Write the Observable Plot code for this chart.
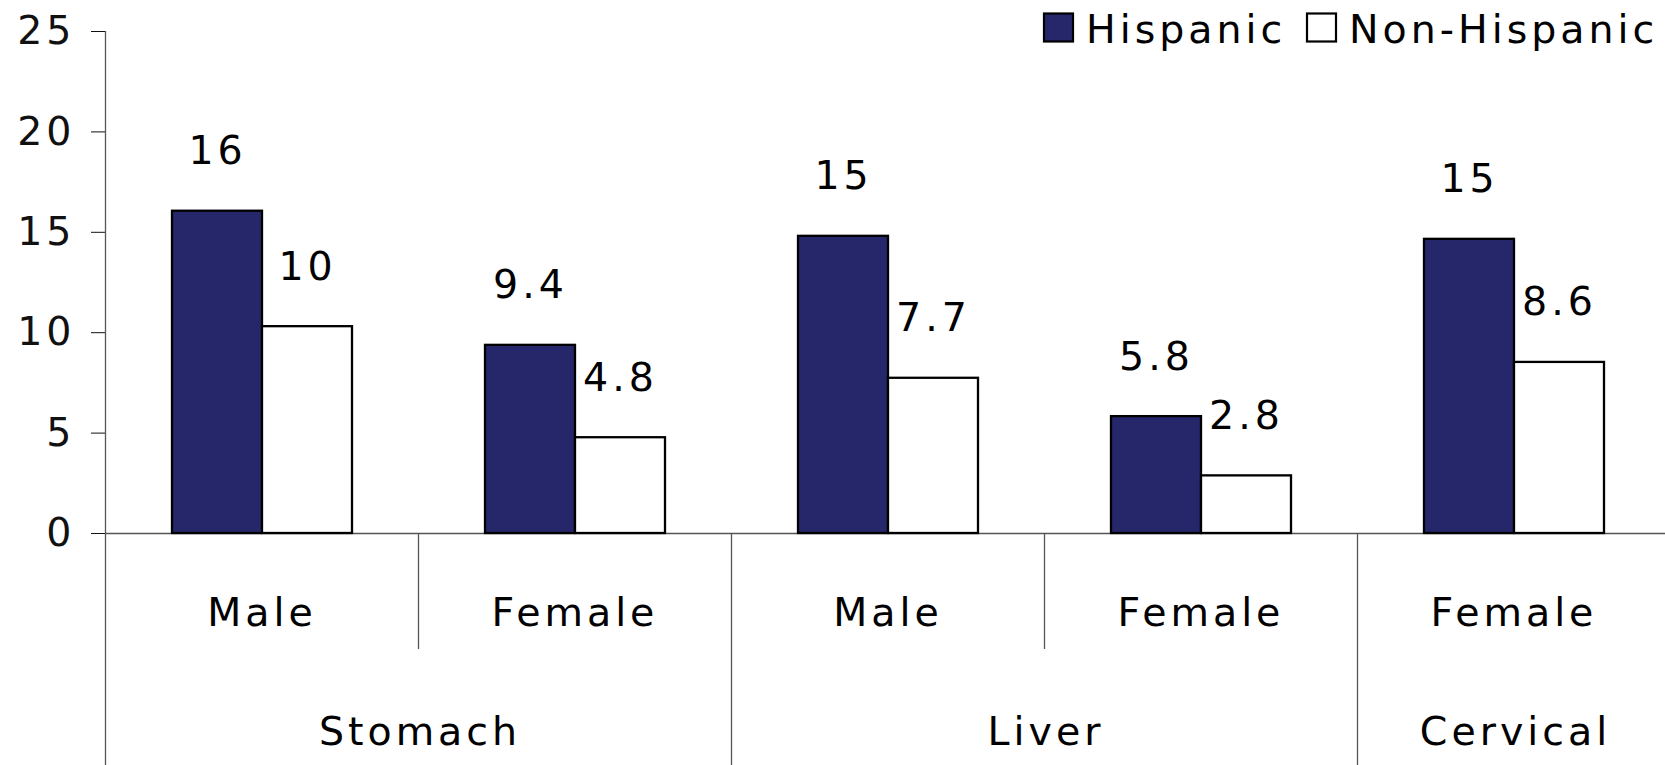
<!DOCTYPE html>
<html>
<head>
<meta charset="utf-8">
<script src="https://cdn.jsdelivr.net/npm/d3@7"></script>
<script src="https://cdn.jsdelivr.net/npm/@observablehq/plot@0.6"></script>
<style>
html, body { margin: 0; padding: 0; background: #fff; overflow: hidden; }
</style>
</head>
<body>
<div id="chart"></div>
<script>
// ---- data ----
const cancers = ["Stomach", "Stomach", "Liver", "Liver", "Cervical"];
const sexes = ["Male", "Female", "Male", "Female", "Female"];
const series = ["Hispanic", "Non-Hispanic"];
const hispanic = [16.05, 9.37, 14.8, 5.82, 14.65];
const nonHispanic = [10.3, 4.77, 7.73, 2.87, 8.52];
const hispanicLabels = ["16", "9.4", "15", "5.8", "15"];
const nonHispanicLabels = ["10", "4.8", "7.7", "2.8", "8.6"];
const yTicks = [0, 5, 10, 15, 20, 25];
const seriesColors = ["#26266b", "#ffffff"];

// ---- tables built from the arrays ----
const keys = cancers.map((c, i) => c + " / " + sexes[i] + " #" + i);
const categories = keys.map((key, i) => ({key, cancer: cancers[i], sex: sexes[i]}));
const rows = keys.flatMap((key, i) => [
  {key, series: series[0], value: hispanic[i], label: hispanicLabels[i]},
  {key, series: series[1], value: nonHispanic[i], label: nonHispanicLabels[i]}
]);

const FONT = "'DejaVu Sans', Verdana, sans-serif";
const W = 1665, H = 765;

const chart = Plot.plot({
  width: W,
  height: H,
  marginLeft: 104,
  marginRight: -5,
  marginTop: 31,
  marginBottom: 232,
  style: {fontFamily: FONT, fontSize: "39.5px", letterSpacing: "4px", color: "#111", background: "#fff"},
  fx: {domain: keys, padding: 0, axis: null, label: null},
  x: {domain: series, paddingInner: 0, paddingOuter: 0.73, axis: null},
  y: {domain: [0, 25], ticks: yTicks, tickSize: 14, tickPadding: 16, label: null, tickFormat: d => String(d)},
  color: {domain: series, range: seriesColors},
  marks: [
    Plot.ruleY([0], {stroke: "#555", strokeWidth: 1.3}),
    Plot.barY(rows, {fx: "key", x: "series", y: "value", fill: "series", stroke: "#000", strokeWidth: 2.3}),
    Plot.text(rows, {fx: "key", x: "series", y: "value", text: "label", dy: -47, lineAnchor: "bottom", fill: "#000"}),
    Plot.text(categories, {fx: "key", frameAnchor: "bottom", text: "sex", dy: 92, lineAnchor: "bottom", fill: "#000"})
  ]
});

document.getElementById("chart").appendChild(chart);

// ---- hierarchical axis separators, group labels and legend ----
const svg = d3.select(chart);
const fxs = chart.scale("fx");
const ys = chart.scale("y");
const fxApply = fxs.apply ? fxs.apply : d3.scaleBand().domain(fxs.domain).range(fxs.range).padding(0);
const bw = fxs.bandwidth != null ? fxs.bandwidth : (fxs.range[1] - fxs.range[0]) / fxs.domain.length;
const yApply = ys.apply ? ys.apply : d3.scaleLinear().domain(ys.domain).range(ys.range);
const y0 = yApply(0), yTop = yApply(25);

const lines = svg.append("g").attr("stroke", "#555").attr("stroke-width", 1.3);
keys.forEach((k, i) => {
  const x = Math.round(fxApply(k)) + 0.5;
  const groupStart = i === 0 || cancers[i] !== cancers[i - 1];
  lines.append("line")
    .attr("x1", x).attr("x2", x)
    .attr("y1", i === 0 ? yTop : y0)
    .attr("y2", groupStart ? H : y0 + 116);
});

const groups = [...new Set(cancers)];
const glab = svg.append("g").attr("fill", "#000").attr("text-anchor", "middle");
groups.forEach(gname => {
  const first = cancers.indexOf(gname), last = cancers.lastIndexOf(gname);
  const cx = (fxApply(keys[first]) + fxApply(keys[last]) + bw) / 2;
  glab.append("text").attr("x", cx + 2).attr("y", y0 + 212).text(gname);
});

const legend = svg.append("g").attr("text-anchor", "start").attr("fill", "#000");
const legendItems = [
  {name: series[0], color: seriesColors[0], x: 1044, tx: 1086},
  {name: series[1], color: seriesColors[1], x: 1307, tx: 1349}
];
legendItems.forEach(d => {
  legend.append("rect").attr("x", d.x).attr("y", 13.5).attr("width", 29).attr("height", 28)
    .attr("fill", d.color).attr("stroke", "#000").attr("stroke-width", 2.2);
  legend.append("text").attr("x", d.tx).attr("y", 42.5).attr("fill", "#000").text(d.name);
});
</script>
</body>
</html>
